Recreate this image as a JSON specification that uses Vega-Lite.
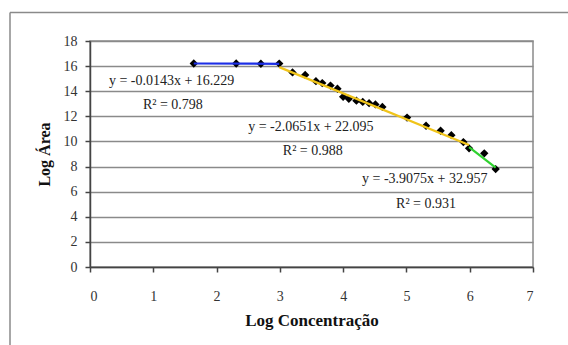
{
  "$schema": "https://vega.github.io/schema/vega-lite/v6.json",
  "autosize": {"type": "none"},
  "width": 443,
  "height": 226,
  "padding": {"left": 90, "top": 41, "right": 35, "bottom": 78},
  "background": "white",
  "config": {
    "view": {"stroke": "#8a8a8a", "strokeWidth": 1.5},
    "font": "Liberation Serif",
    "style": {
      "guide-label": {"font": "Liberation Serif", "fontSize": 14, "fill": "#333"},
      "guide-title": {"font": "Liberation Serif", "fontWeight": "bold", "fill": "#111"}
    },
    "axis": {"labelFont": "Liberation Serif", "titleFont": "Liberation Serif"},
    "axisX": {
      "grid": false, "titleFont": "Liberation Serif", "titleFontSize": 17, "titleFontWeight": "bold", "titleColor": "#111", "titlePadding": 9,
      "labelFont": "Liberation Serif", "labelFontSize": 14, "labelColor": "#333", "labelPadding": 17, "labelOverlap": false,
      "domainColor": "#444", "domainWidth": 1.5, "tickColor": "#444", "tickWidth": 1.5, "tickSize": 5
    },
    "axisY": {
      "grid": true, "gridColor": "#8a8a8a", "gridWidth": 1.5,
      "titleFont": "Liberation Serif", "titleFontSize": 16, "titleFontWeight": "bold", "titleColor": "#111", "titlePadding": 11,
      "labelFont": "Liberation Serif", "labelFontSize": 14, "labelColor": "#333", "labelPadding": 8, "labelOverlap": false,
      "domainColor": "#444", "domainWidth": 1.5, "tickColor": "#444", "tickWidth": 1.5, "tickSize": 5
    }
  },
  "datasets": {
    "points": [
      {"x": 1.64, "y": 16.21},
      {"x": 2.31, "y": 16.21},
      {"x": 2.70, "y": 16.19},
      {"x": 2.99, "y": 16.2},
      {"x": 3.20, "y": 15.5},
      {"x": 3.40, "y": 15.3},
      {"x": 3.57, "y": 14.8},
      {"x": 3.67, "y": 14.65},
      {"x": 3.80, "y": 14.45},
      {"x": 3.91, "y": 14.2},
      {"x": 4.00, "y": 13.55},
      {"x": 4.09, "y": 13.4},
      {"x": 4.21, "y": 13.25},
      {"x": 4.31, "y": 13.15},
      {"x": 4.41, "y": 13.05},
      {"x": 4.51, "y": 12.95},
      {"x": 4.62, "y": 12.75},
      {"x": 5.01, "y": 11.9},
      {"x": 5.31, "y": 11.25},
      {"x": 5.54, "y": 10.85},
      {"x": 5.71, "y": 10.5},
      {"x": 5.90, "y": 9.95},
      {"x": 5.99, "y": 9.45},
      {"x": 6.23, "y": 9.05},
      {"x": 6.41, "y": 7.8}
    ],
    "trends": [
      {"series": "a", "x": 1.64, "y": 16.206},
      {"series": "a", "x": 2.99, "y": 16.186},
      {"series": "b", "x": 2.99, "y": 15.92},
      {"series": "b", "x": 5.99, "y": 9.725},
      {"series": "c", "x": 5.99, "y": 9.55},
      {"series": "c", "x": 6.41, "y": 7.91}
    ],
    "labels": [
      {"x": 1.29, "y": 14.84, "t": "y = -0.0143x + 16.229"},
      {"x": 1.31, "y": 12.91, "t": "R² = 0.798"},
      {"x": 3.49, "y": 11.15, "t": "y = -2.0651x + 22.095"},
      {"x": 3.52, "y": 9.22, "t": "R² = 0.988"},
      {"x": 5.29, "y": 6.98, "t": "y = -3.9075x + 32.957"},
      {"x": 5.31, "y": 5.05, "t": "R² = 0.931"}
    ],
    "frameV": [{"x": -1.264, "y1": 20.27, "y2": -8}],
    "frameH": [{"y": 20.27, "x1": -1.264, "x2": 8}]
  },
  "layer": [
    {
      "data": {"name": "points"},
      "mark": {"type": "point", "shape": "diamond", "filled": true, "color": "#000", "size": 70, "opacity": 1},
      "encoding": {
        "x": {"field": "x", "type": "quantitative", "scale": {"domain": [0, 7]},
          "axis": {"values": [0,1,2,3,4,5,6,7], "format": "d", "title": "Log Concentração", "labelFont": "Liberation Serif"}},
        "y": {"field": "y", "type": "quantitative", "scale": {"domain": [0, 18]},
          "axis": {"values": [0,2,4,6,8,10,12,14,16,18], "format": "d", "title": "Log Área", "labelFont": "Liberation Serif"}}
      }
    },
    {
      "data": {"name": "frameV"},
      "mark": {"type": "rule", "color": "#8a8a8a", "strokeWidth": 1.5, "clip": false},
      "encoding": {
        "x": {"field": "x", "type": "quantitative", "scale": {"domain": [0, 7]},
          "axis": {"values": [0,1,2,3,4,5,6,7], "format": "d", "title": "Log Concentração", "labelFont": "Liberation Serif"}},
        "y": {"field": "y1", "type": "quantitative", "scale": {"domain": [0, 18]},
          "axis": {"values": [0,2,4,6,8,10,12,14,16,18], "format": "d", "title": "Log Área", "labelFont": "Liberation Serif"}},
        "y2": {"field": "y2"}
      }
    },
    {
      "data": {"name": "frameH"},
      "mark": {"type": "rule", "color": "#8a8a8a", "strokeWidth": 1.5, "clip": false},
      "encoding": {
        "y": {"field": "y", "type": "quantitative", "scale": {"domain": [0, 18]},
          "axis": {"values": [0,2,4,6,8,10,12,14,16,18], "format": "d", "title": "Log Área", "labelFont": "Liberation Serif"}},
        "x": {"field": "x1", "type": "quantitative", "scale": {"domain": [0, 7]},
          "axis": {"values": [0,1,2,3,4,5,6,7], "format": "d", "title": "Log Concentração", "labelFont": "Liberation Serif"}},
        "x2": {"field": "x2"}
      }
    },
    {
      "data": {"name": "trends"},
      "mark": {"type": "line", "strokeWidth": 2.2},
      "encoding": {
        "x": {"field": "x", "type": "quantitative", "scale": {"domain": [0, 7]},
          "axis": {"values": [0,1,2,3,4,5,6,7], "format": "d", "title": "Log Concentração", "labelFont": "Liberation Serif"}},
        "y": {"field": "y", "type": "quantitative", "scale": {"domain": [0, 18]},
          "axis": {"values": [0,2,4,6,8,10,12,14,16,18], "format": "d", "title": "Log Área", "labelFont": "Liberation Serif"}},
        "detail": {"field": "series"},
        "color": {"field": "series", "type": "nominal", "scale": {"domain": ["a","b","c"], "range": ["#1c2ee6", "#f0c419", "#2fd12f"]}, "legend": null}
      }
    },
    {
      "data": {"name": "labels"},
      "mark": {"type": "text", "font": "Liberation Serif", "fontSize": 14, "color": "#222", "align": "center", "baseline": "middle"},
      "encoding": {
        "x": {"field": "x", "type": "quantitative", "scale": {"domain": [0, 7]},
          "axis": {"values": [0,1,2,3,4,5,6,7], "format": "d", "title": "Log Concentração", "labelFont": "Liberation Serif"}},
        "y": {"field": "y", "type": "quantitative", "scale": {"domain": [0, 18]},
          "axis": {"values": [0,2,4,6,8,10,12,14,16,18], "format": "d", "title": "Log Área", "labelFont": "Liberation Serif"}},
        "text": {"field": "t"}
      }
    }
  ]
}
